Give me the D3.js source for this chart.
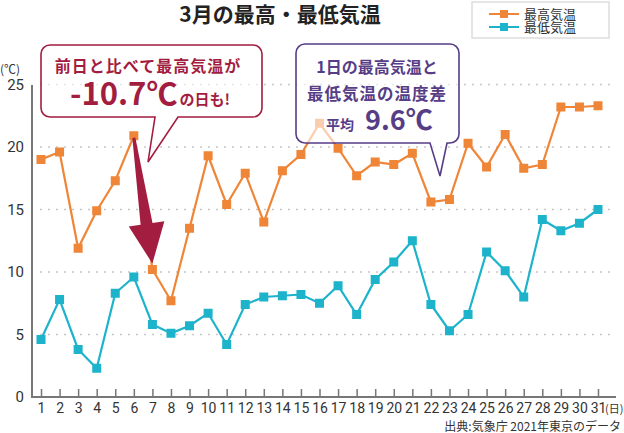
<!DOCTYPE html>
<html>
<head>
<meta charset="utf-8">
<script src="https://cdn.jsdelivr.net/npm/d3@7"></script>
<style>
  body { margin: 0; background: #fff; }
  svg { display: block; }
</style>
</head>
<body>
<div id="chart"></div>
<script>
// data
var days = d3.range(1, 32);
var highTemp = [19.0, 19.6, 11.9, 14.9, 17.3, 20.9, 10.2, 7.7, 13.5, 19.3,
                15.4, 17.9, 14.0, 18.1, 19.4, 21.9, 19.9, 17.7, 18.8, 18.6,
                19.5, 15.6, 15.8, 20.3, 18.4, 21.0, 18.3, 18.6, 23.2, 23.2, 23.3];
var lowTemp = [4.6, 7.8, 3.8, 2.3, 8.3, 9.6, 5.8, 5.1, 5.7, 6.7,
               4.2, 7.4, 8.0, 8.1, 8.2, 7.5, 8.9, 6.6, 9.4, 10.8,
               12.5, 7.4, 5.3, 6.6, 11.6, 10.1, 8.0, 14.2, 13.3, 13.9, 15.0];
var yTicks = [0, 5, 10, 15, 20, 25];
var seriesNames = ["最高気温", "最低気温"];

var W = 624, H = 433;
var orange = "#ef8537", teal = "#1db3cb";
var red = "#a21d40", purple = "#563d86";
var jp = "'Noto Sans CJK JP', 'Noto Sans', sans-serif";
var num = "'Liberation Sans Narrow', 'Roboto', sans-serif";
var bignum = "'Liberation Sans Narrow', 'Noto Sans CJK JP', sans-serif";

var svg = d3.select("#chart").append("svg")
    .attr("width", W).attr("height", H);

var x = d3.scalePoint().domain(days).range([41, 598]);
var y = d3.scaleLinear().domain([0, 25]).range([397, 84.5]);

// title
svg.append("text")
    .attr("x", 280).attr("y", 22)
    .attr("text-anchor", "middle")
    .style("font-family", jp).style("font-weight", "700")
    .style("font-size", "21px").style("fill", "#222")
    .text("3月の最高・最低気温");

// grid
svg.append("g").selectAll("line")
    .data(yTicks.filter(function(d){ return d > 0; }))
    .enter().append("line")
    .attr("x1", 40).attr("x2", 616)
    .attr("y1", function(d){ return y(d); })
    .attr("y2", function(d){ return y(d); })
    .style("stroke", "#c8c8c8").style("stroke-width", 1.5)
    .style("stroke-dasharray", "2,6");

// y axis labels
svg.append("g").selectAll("text")
    .data(yTicks).enter().append("text")
    .attr("x", 24)
    .attr("y", function(d){ return y(d) + 5; })
    .attr("text-anchor", "end")
    .style("font-family", num).style("font-size", "15px").style("fill", "#333")
    .text(function(d){ return d; });

svg.append("text")
    .attr("x", 0).attr("y", 74)
    .style("font-family", jp).style("font-size", "12px").style("fill", "#333")
    .text("(℃)");

// x axis
var xAxis = d3.axisBottom(x).tickSize(0).tickPadding(0);
var gx = svg.append("g").attr("transform", "translate(0,397)").call(xAxis);
gx.select(".domain").remove();
gx.selectAll("text")
    .attr("dy", "16px")
    .style("font-family", num).style("font-size", "14px").style("fill", "#333");

gx.selectAll(".tick").append("line")
    .attr("y1", -8).attr("y2", 0)
    .style("stroke", "#777").style("stroke-width", 1.5);

svg.append("line")
    .attr("x1", 32).attr("x2", 616).attr("y1", 397).attr("y2", 397)
    .style("stroke", "#777").style("stroke-width", 2);
svg.append("line")
    .attr("x1", 32).attr("x2", 32).attr("y1", 85).attr("y2", 398)
    .style("stroke", "#777").style("stroke-width", 2);

svg.append("text")
    .attr("x", 605).attr("y", 413)
    .style("font-family", jp).style("font-size", "11px").style("fill", "#333")
    .text("(日)");

// source
svg.append("text")
    .attr("x", 621).attr("y", 431)
    .attr("text-anchor", "end")
    .style("font-family", jp).style("font-size", "12px").style("fill", "#333")
    .text("出典:気象庁 2021年東京のデータ");

// lines
function drawSeries(values, color) {
    var line = d3.line()
        .x(function(d, i){ return x(days[i]); })
        .y(function(d){ return y(d); });
    svg.append("path")
        .datum(values)
        .attr("d", line)
        .style("fill", "none").style("stroke", color).style("stroke-width", 2.2);
    svg.append("g").selectAll("rect")
        .data(values).enter().append("rect")
        .attr("x", function(d, i){ return x(days[i]) - 4.5; })
        .attr("y", function(d){ return y(d) - 4.5; })
        .attr("width", 9).attr("height", 9)
        .style("fill", color);
}
drawSeries(highTemp, orange);
drawSeries(lowTemp, teal);

// big drop arrow day6 -> day7
var ax0 = x(6), ay0 = y(highTemp[5]) + 2;
var ax1 = x(7), ay1 = y(highTemp[6]) - 6;
var ang = Math.atan2(ay1 - ay0, ax1 - ax0);
var len = Math.hypot(ax1 - ax0, ay1 - ay0);
var arrowPts = [[0, -1.5], [len - 40, -6], [len - 40, -18], [len, 0], [len - 40, 18], [len - 40, 6], [0, 1.5]];
svg.append("polygon")
    .attr("points", arrowPts.map(function(p){ return p.join(","); }).join(" "))
    .attr("transform", "translate(" + ax0 + "," + ay0 + ") rotate(" + (ang * 180 / Math.PI) + ")")
    .style("fill", red);

// callouts
function callout(bx, by, bw, bh, p1, p2, tip, color) {
    var r = 9;
    var p = d3.path();
    p.moveTo(bx + r, by);
    p.lineTo(bx + bw - r, by);
    p.arcTo(bx + bw, by, bx + bw, by + r, r);
    p.lineTo(bx + bw, by + bh - r);
    p.arcTo(bx + bw, by + bh, bx + bw - r, by + bh, r);
    p.lineTo(p2, by + bh);
    p.lineTo(tip[0], tip[1]);
    p.lineTo(p1, by + bh);
    p.lineTo(bx + r, by + bh);
    p.arcTo(bx, by + bh, bx, by + bh - r, r);
    p.lineTo(bx, by + r);
    p.arcTo(bx, by, bx + r, by, r);
    p.closePath();
    svg.append("path").attr("d", p.toString())
        .style("fill", "rgba(255,255,255,0.6)")
        .style("stroke", color).style("stroke-width", 1.6);
}
callout(41, 45, 221, 72, 155, 178, [148, 162], red);
callout(296, 44, 163, 99, 430, 447, [440, 176], purple);

// left callout text
svg.append("text")
    .attr("x", 148).attr("y", 72).attr("text-anchor", "middle")
    .style("font-family", jp).style("font-weight", "700")
    .style("font-size", "16px").style("letter-spacing", "1px").style("fill", red)
    .text("前日と比べて最高気温が");
var t2 = svg.append("text")
    .attr("x", 150).attr("y", 105).attr("text-anchor", "middle")
    .style("font-weight", "700").style("fill", red);
t2.append("tspan").style("font-family", bignum).style("font-size", "31px").text("-10.7℃");
t2.append("tspan").style("font-family", jp).style("font-size", "15px").attr("dx", 2).text("の日も!");

// right callout text
svg.append("text")
    .attr("x", 377).attr("y", 73).attr("text-anchor", "middle")
    .style("font-family", jp).style("font-weight", "700")
    .style("font-size", "16px").style("fill", purple)
    .text("1日の最高気温と");
svg.append("text")
    .attr("x", 377).attr("y", 100).attr("text-anchor", "middle")
    .style("font-family", jp).style("font-weight", "700")
    .style("font-size", "16.5px").style("letter-spacing", "1px").style("fill", purple)
    .text("最低気温の温度差");
var t3 = svg.append("text")
    .attr("x", 326).attr("y", 130)
    .style("font-weight", "700").style("fill", purple);
t3.append("tspan").style("font-family", jp).style("font-size", "14px").text("平均");
t3.append("tspan").style("font-family", bignum).style("font-size", "27px").attr("dx", 11).text("9.6℃");

// legend
svg.append("rect")
    .attr("x", 472).attr("y", 2).attr("width", 137).attr("height", 36)
    .style("fill", "#fff").style("stroke", "#ddd").style("stroke-width", 1.5);
var leg = svg.append("g").selectAll("g")
    .data(seriesNames).enter().append("g")
    .attr("transform", function(d, i){ return "translate(489," + (14 + i * 13) + ")"; });
leg.append("line")
    .attr("x1", 0).attr("x2", 30)
    .style("stroke", function(d, i){ return i == 0 ? orange : teal; })
    .style("stroke-width", 2);
leg.append("rect")
    .attr("x", 11).attr("y", -4).attr("width", 8).attr("height", 8)
    .style("fill", function(d, i){ return i == 0 ? orange : teal; });
leg.append("text")
    .attr("x", 35).attr("y", 5)
    .style("font-family", jp).style("font-size", "13px").style("fill", "#333")
    .text(function(d){ return d; });
</script>
</body>
</html>
